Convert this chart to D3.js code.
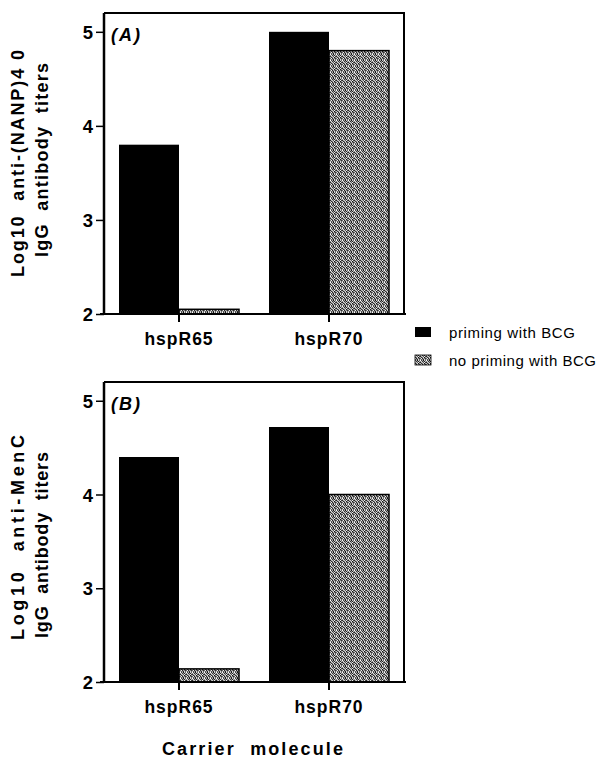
<!DOCTYPE html>
<html>
<head>
<meta charset="utf-8">
<script src="https://cdn.jsdelivr.net/npm/d3@7"></script>
<style>
  html, body { margin: 0; padding: 0; background: #fff; }
  svg { display: block; }
  text { font-family: "Liberation Sans", Arial, Helvetica, sans-serif; fill: #000; white-space: pre; }
</style>
</head>
<body>
<svg id="chart" width="600" height="759"></svg>
<script>
// ---- data ----
const categories = ["hspR65", "hspR70"];
const seriesNames = ["priming with BCG", "no priming with BCG"];
const panelA_primed = [3.8, 5.0];
const panelA_unprimed = [2.05, 4.8];
const panelB_primed = [4.4, 4.72];
const panelB_unprimed = [2.14, 4.0];
const yTickValues = [2, 3, 4, 5];
const panelLabels = ["(A)", "(B)"];
const yTitlesA = ["Log10  anti-(NANP)4 0", "IgG  antibody  titers"];
const yTitlesB = ["Log10  anti-MenC", "IgG  antibody  titers"];
const xTitle = "Carrier  molecule";

const svg = d3.select("#chart");
const defs = svg.append("defs");

// stippled grey texture
const pat = defs.append("pattern").attr("id", "stipple")
  .attr("patternUnits", "userSpaceOnUse").attr("width", 6).attr("height", 6);
const tile = [
  "#ffffff","#444444","#aaaaaa","#111111","#cccccc","#666666",
  "#888888","#dddddd","#333333","#999999","#222222","#bbbbbb",
  "#222222","#aaaaaa","#cccccc","#555555","#eeeeee","#444444",
  "#bbbbbb","#333333","#777777","#dddddd","#111111","#999999",
  "#666666","#eeeeee","#222222","#aaaaaa","#777777","#333333",
  "#cccccc","#555555","#999999","#222222","#dddddd","#666666"
];
tile.forEach((c, i) => {
  pat.append("rect").attr("x", i % 6).attr("y", Math.floor(i / 6))
    .attr("width", 1).attr("height", 1).attr("fill", c);
});

const fills = ["#000", "url(#stipple)"];

const x0 = d3.scaleBand().domain(categories).range([104, 404])
  .paddingInner(0.2).paddingOuter(0.1);
const x1 = d3.scaleBand().domain(seriesNames).range([0, x0.bandwidth()]);

function panel(cfg) {
  const y = d3.scaleLinear().domain([2, 5.2]).range([cfg.bottom, cfg.top]);
  const g = svg.append("g");
  const rows = categories.map((c, i) => ({ cat: c, vals: [cfg.primed[i], cfg.unprimed[i]] }));

  rows.forEach(r => {
    r.vals.forEach((v, j) => {
      g.append("rect")
        .attr("x", x0(r.cat) + x1(seriesNames[j]))
        .attr("y", y(v))
        .attr("width", x1.bandwidth())
        .attr("height", y(2) - y(v))
        .attr("fill", fills[j])
        .attr("stroke", "#000")
        .attr("stroke-width", j === 1 ? 1.5 : 0);
    });
  });

  g.append("path")
    .attr("d", `M104,${y(5.2)}H404V${y(2)}`)
    .attr("fill", "none").attr("stroke", "#000").attr("stroke-width", 2);

  const ya = g.append("g").attr("transform", "translate(104,0)")
    .call(d3.axisLeft(y).tickValues(yTickValues).tickFormat(d3.format("d")).tickSize(8).tickPadding(3));
  ya.select(".domain").attr("stroke-width", 2.5).attr("d", `M0,${y(5.2)}V${y(2)}`);
  ya.selectAll(".tick line").attr("stroke-width", 1.5);
  ya.selectAll(".tick text").attr("font-size", 18.5).attr("font-weight", "bold")
    .attr("font-family", '"Liberation Sans", Arial, sans-serif').attr("dy", "0.36em");

  const xa = g.append("g").attr("transform", `translate(0,${y(2)})`)
    .call(d3.axisBottom(x0).tickSize(8).tickPadding(11));
  xa.select(".domain").attr("stroke-width", 2).attr("d", `M100,0H406`);
  xa.selectAll(".tick line").attr("stroke-width", 2);
  xa.selectAll(".tick text").attr("font-size", 17.5).attr("font-weight", "bold")
    .attr("letter-spacing", 1).attr("font-family", '"Liberation Sans", Arial, sans-serif');

  g.append("text").attr("x", 111).attr("y", y(5) + 9)
    .attr("font-size", 18).attr("font-weight", "bold").attr("font-style", "italic")
    .attr("letter-spacing", 2).text(cfg.label);

  cfg.titles.forEach((t, i) => {
    g.append("text")
      .attr("transform", `translate(${[24, 48][i]},${cfg.titleCenter[i]}) rotate(-90)`)
      .attr("text-anchor", "middle")
      .attr("font-size", 18).attr("font-weight", "bold")
      .attr("textLength", cfg.titleLen[i]).attr("lengthAdjust", "spacing")
      .text(t);
  });
}

panel({ top: 13, bottom: 314, primed: panelA_primed, unprimed: panelA_unprimed,
        label: panelLabels[0], titles: yTitlesA, titleCenter: [163.5, 160], titleLen: [227, 194] });
panel({ top: 382, bottom: 682, primed: panelB_primed, unprimed: panelB_unprimed,
        label: panelLabels[1], titles: yTitlesB, titleCenter: [537.5, 545], titleLen: [205, 186] });

const legY = [327, 355];
const legLen = [126, 147];
seriesNames.forEach((s, i) => {
  svg.append("rect").attr("x", 415).attr("y", legY[i]).attr("width", 16).attr("height", 10)
    .attr("fill", fills[i]).attr("stroke", i === 1 ? "#000" : "none").attr("stroke-width", 0.8);
  svg.append("text").attr("x", 449).attr("y", legY[i] + 11)
    .attr("font-size", 15).attr("textLength", legLen[i]).attr("lengthAdjust", "spacing").text(s);
});

svg.append("text").attr("x", 162).attr("y", 755)
  .attr("font-size", 18).attr("font-weight", "bold")
  .attr("textLength", 181).attr("lengthAdjust", "spacing").text(xTitle);
</script>
</body>
</html>
